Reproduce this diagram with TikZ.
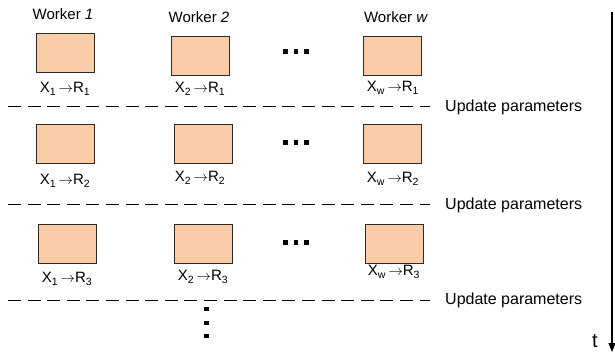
\documentclass[tikz,border=0pt]{standalone}
\usepackage{fontspec}
\setmainfont{Liberation Sans}
\usetikzlibrary{arrows.meta}
\definecolor{peach}{RGB}{250,204,168}
\definecolor{edge}{RGB}{50,40,35}
\begin{document}
\begin{tikzpicture}[x=1pt,y=-1pt,
  wbox/.style={draw=edge,line width=0.9pt,fill=peach,minimum width=58pt,minimum height=39pt,inner sep=0pt,anchor=north west},
  lab/.style={font=\fontsize{15}{15}\selectfont,inner sep=0pt,anchor=base},
  upd/.style={font=\fontsize{16}{16}\selectfont,inner sep=0pt,anchor=west},
  sep/.style={line width=1pt,dash pattern=on 13pt off 6.6pt},
  dotsq/.style={fill=black,minimum size=4.5pt,inner sep=0pt}
]
\useasboundingbox (0,0) rectangle (615,352);
% headers
\node[lab] (h1) at (63,20) {Worker \textit{1}};
\node[lab] (h2) at (199,23) {Worker \textit{2}};
\node[lab] (hw) at (396,23) {Worker \textit{w}};
% row 1
\node[wbox] (b11) at (36,33) {};
\node[wbox] (b12) at (171,36) {};
\node[wbox] (b1w) at (363,36) {};
\node[lab] (l11) at (65,93) {X\textsubscript{1}\,$\rightarrow$R\textsubscript{1}};
\node[lab] (l12) at (200,93) {X\textsubscript{2}\,$\rightarrow$R\textsubscript{1}};
\node[lab] (l1w) at (393,92) {X\textsubscript{w}\,$\rightarrow$R\textsubscript{1}};
\foreach \i/\x in {1/285.5,2/296,3/306.5} \node[dotsq] (d1\i) at (\x,51.5) {};
% separator 1
\coordinate (s1a) at (8,107); \coordinate (s1b) at (430,107);
\draw[sep] (s1a) -- (s1b);
\node[upd] (u1) at (445,107) {Update parameters};
% row 2
\node[wbox] (b21) at (36,124) {};
\node[wbox] (b22) at (174,124) {};
\node[wbox] (b2w) at (363,124) {};
\node[lab] (l21) at (65,185) {X\textsubscript{1}\,$\rightarrow$R\textsubscript{2}};
\node[lab] (l22) at (200,182) {X\textsubscript{2}\,$\rightarrow$R\textsubscript{2}};
\node[lab] (l2w) at (393,183) {X\textsubscript{w}\,$\rightarrow$R\textsubscript{2}};
\foreach \i/\x in {1/285.5,2/296,3/306.5} \node[dotsq] (d2\i) at (\x,142.5) {};
% separator 2
\coordinate (s2a) at (8,205); \coordinate (s2b) at (430,205);
\draw[sep] (s2a) -- (s2b);
\node[upd] (u2) at (445,205) {Update parameters};
% row 3
\node[wbox] (b31) at (38,224) {};
\node[wbox] (b32) at (174,224) {};
\node[wbox] (b3w) at (365,224) {};
\node[lab] (l31) at (67,283) {X\textsubscript{1}\,$\rightarrow$R\textsubscript{3}};
\node[lab] (l32) at (203,281) {X\textsubscript{2}\,$\rightarrow$R\textsubscript{3}};
\node[lab] (l3w) at (394,276) {X\textsubscript{w}\,$\rightarrow$R\textsubscript{3}};
\foreach \i/\x in {1/285.5,2/296,3/306.5} \node[dotsq] (d3\i) at (\x,242.5) {};
% separator 3
\coordinate (s3a) at (8,300); \coordinate (s3b) at (430,300);
\draw[sep] (s3a) -- (s3b);
\node[upd] (u3) at (445,300) {Update parameters};
% vertical dots
\foreach \i/\y in {1/309,2/323,3/336} \node[dotsq] (v\i) at (206.5,\y) {};
% time arrow
\coordinate (ta) at (612,12); \coordinate (tb) at (612,352);
\draw[line width=1.3pt,-{Triangle[length=9pt,width=7pt]}] (ta) -- (tb);
\node[font=\fontsize{20}{20}\selectfont,inner sep=0pt,anchor=base] (t) at (595,347) {t};
\end{tikzpicture}
\end{document}
